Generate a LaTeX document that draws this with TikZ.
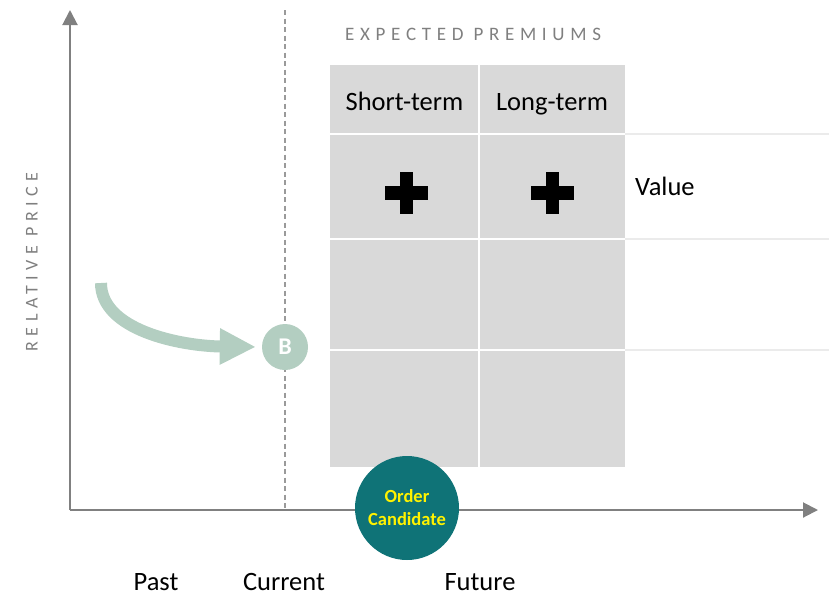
\documentclass[tikz,border=0pt]{standalone}
\usepackage{fontspec}
\setmainfont{Carlito}
\newfontfamily\spaced[LetterSpace=30]{Carlito}
\usetikzlibrary{arrows.meta,calc}
\definecolor{axisgray}{HTML}{808080}
\definecolor{cellgray}{HTML}{D9D9D9}
\definecolor{gridgray}{HTML}{EBEBEB}
\definecolor{sage}{HTML}{B3CEC1}
\definecolor{teal}{HTML}{0F7377}
\definecolor{labelgray}{HTML}{7F7F7F}
\tikzset{
  axis/.style={draw=axisgray, line width=2pt, -{Triangle[length=15pt,width=15pt]}},
  caption/.style={font=\fontsize{26.5}{30}\selectfont, text=black, inner sep=0pt},
  spacedlabel/.style={font=\spaced\fontsize{19}{21}\selectfont, text=labelgray, inner sep=0pt},
  plussign/.style={fill=black},
}
\begin{document}
\begin{tikzpicture}[x=1pt,y=-1pt]
\useasboundingbox (0,0) rectangle (829,595);
% table
\fill[cellgray] (330,65) rectangle (625,467);
\draw[white, line width=2pt] (479,65) -- (479,467);
\foreach \yy in {134,239,350} {
  \draw[white, line width=2pt] (330,\yy) -- (625,\yy);
  \draw[gridgray, line width=1.5pt] (625,\yy) -- (829,\yy);
}
% axes
\coordinate (O) at (70,510);
\coordinate (Ytop) at (70,10);
\coordinate (Xend) at (818,510);
\draw[axis] (O) -- (Ytop);
\draw[axis] (O) -- (Xend);
% dashed current line
\coordinate (Dtop) at (285,10);
\coordinate (Dbot) at (285,510);
\draw[axisgray!80, line width=1.2pt, dash pattern=on 5pt off 3.5pt] (Dtop) -- (Dbot);
% texts
\node[spacedlabel, anchor=base west] (exp) at (345,40.5) {EXPECTED PREMIUMS};
\node[spacedlabel, font=\spaced\fontsize{18}{20}\selectfont, rotate=90, anchor=base] (rel) at (37.5,262) {RELATIVE PRICE};
\node[caption, anchor=base] (st) at (404.5,110) {Short-term};
\node[caption, anchor=base] (lt) at (552,110) {Long-term};
\node[caption, anchor=base west] (val) at (635,195) {Value};
\node[caption, anchor=base] (past) at (156,590) {Past};
\node[caption, anchor=base] (cur) at (284,590) {Current};
\node[caption, anchor=base] (fut) at (480,590) {Future};
% plus signs
\foreach \cx/\nm in {406/p1, 552/p2} {
  \coordinate (\nm) at (\cx,193);
  \fill[plussign] ($(\nm)+(-21.5,-7)$) rectangle ($(\nm)+(21.5,7)$);
  \fill[plussign] ($(\nm)+(-6.5,-21)$) rectangle ($(\nm)+(6.5,21)$);
}
% B node and arrow
\node[circle, fill=sage, minimum size=46pt, inner sep=0pt, text=white, font=\bfseries\fontsize{24}{26}\selectfont] (B) at (285,347) {B};
\coordinate (s) at (101,283);
\draw[sage, line width=12pt, -{Triangle[length=36pt,width=34pt]}, shorten >=6pt] (s) .. controls (101,330) and (180,346) .. (B.west);
% order candidate
\node[circle, fill=teal, minimum size=104pt, inner sep=0pt, text=yellow, font=\bfseries\fontsize{18.5}{23}\selectfont, align=center] (oc) at (407,508) {Order\\Candidate};
\end{tikzpicture}
\end{document}
